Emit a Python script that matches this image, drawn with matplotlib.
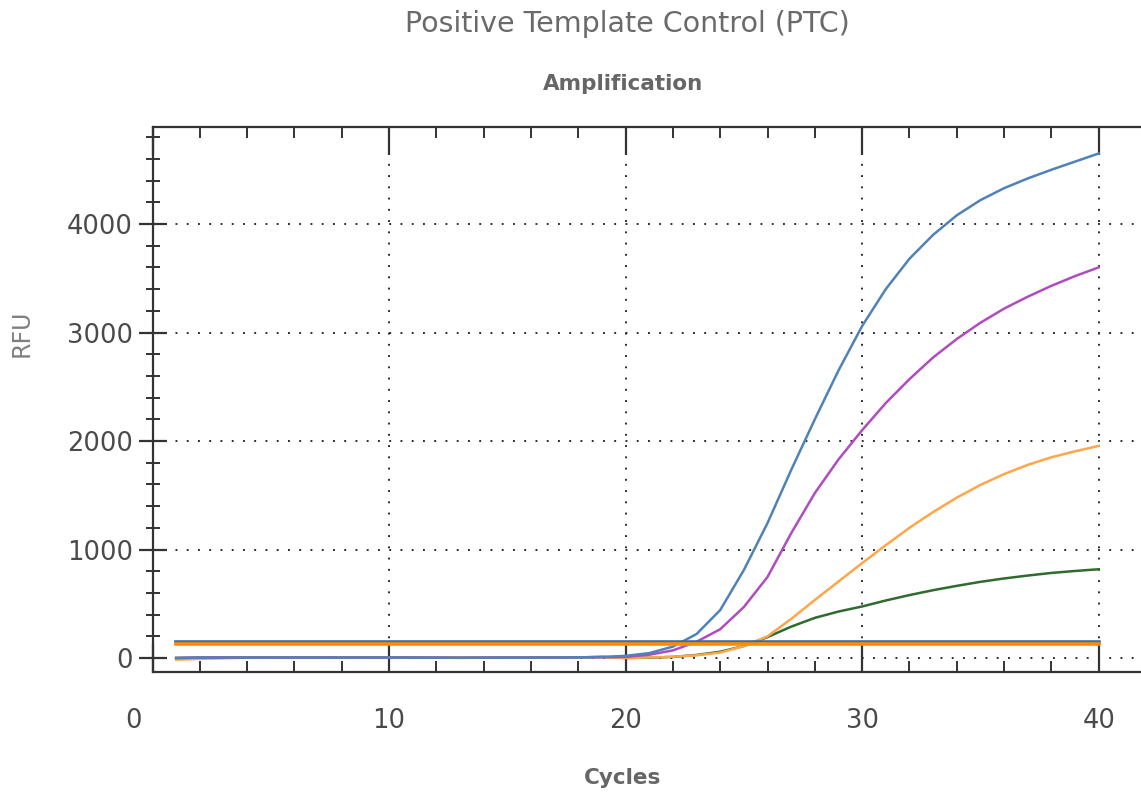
import matplotlib
matplotlib.use("Agg")
import matplotlib.pyplot as plt
from matplotlib.ticker import MultipleLocator, FixedLocator
from matplotlib.transforms import ScaledTranslation

plt.rcParams['font.family'] = ['DejaVu Sans']

cycles = list(range(1, 41))
baseline = [0, 3, 4, 4, 5, 5, 5, 4, 5, 5, 4, 3, 2, 3, 4, 4, 5, 6, 9]
blue_vals = baseline + [20, 45, 105, 221, 442, 811, 1244, 1733, 2200, 2650, 3060,
                        3400, 3680, 3900, 4080, 4220, 4330, 4420, 4500, 4575, 4650]
magenta_vals = baseline + [10, 30, 70, 150, 265, 470, 747, 1150, 1520, 1830, 2100,
                           2350, 2570, 2770, 2940, 3090, 3220, 3330, 3430, 3520, 3600]
orange_vals = [-15, -8, -3] + baseline[3:] + [0, 5, 12, 25, 50, 110, 200, 360, 535, 705, 875,
                                              1040, 1200, 1345, 1478, 1595, 1695, 1780, 1850, 1905, 1955]
green_vals = baseline + [0, 3, 10, 28, 58, 110, 193, 289, 370, 428, 475,
                         530, 580, 625, 665, 702, 733, 760, 784, 802, 818]
threshold_blue = 147
threshold_orange = 127

fig = plt.figure(figsize=(11.41, 7.94), dpi=100)
ax = fig.add_axes([152.5/1141, 122/794, (1146 - 152.5)/1141, (672 - 127)/794])

ax.set_xlim(0, 42)
ax.set_ylim(-129, 4894)

grid_kw = dict(color='#222222', linestyle=(0, (1.0, 5.0)), linewidth=1.35)
for yv in [0, 1000, 2000, 3000, 4000]:
    ax.axhline(yv, zorder=1, **grid_kw)
for xv in [10, 20, 30, 40]:
    ax.axvline(xv, zorder=1, **grid_kw)

ax.plot(cycles, green_vals, color='#2f6b2f', lw=1.8, zorder=3)
ax.plot(cycles, orange_vals, color='#ffa64a', lw=1.8, zorder=3)
ax.plot(cycles, magenta_vals, color='#b04cbf', lw=1.8, zorder=3)
ax.plot(cycles, blue_vals, color='#4f82b8', lw=1.8, zorder=3)

ax.plot([cycles[0], cycles[-1]], [threshold_blue, threshold_blue], color='#3b6ea5', lw=2.6, zorder=4)
ax.plot([cycles[0], cycles[-1]], [threshold_orange, threshold_orange], color='#ff8c00', lw=2.6, zorder=4)

for s in ['left', 'bottom', 'top']:
    ax.spines[s].set_color('#333333')
    ax.spines[s].set_linewidth(1.6)
ax.spines['right'].set_visible(False)

ax.xaxis.set_major_locator(FixedLocator([0, 10, 20, 30, 40]))
ax.xaxis.set_minor_locator(MultipleLocator(2))
ax.yaxis.set_major_locator(FixedLocator([0, 1000, 2000, 3000, 4000]))
ax.yaxis.set_minor_locator(MultipleLocator(200))

ax.tick_params(axis='x', which='major', direction='in', length=20, width=1.6, color='#333333',
               top=True, labelsize=18.5, labelcolor='#4a4a4a', pad=26)
ax.tick_params(axis='x', which='minor', direction='in', length=8, width=1.4, color='#333333', top=True)
ax.tick_params(axis='y', which='major', direction='inout', length=20, width=1.6, color='#333333',
               labelsize=18.5, labelcolor='#4a4a4a', pad=4)
ax.tick_params(axis='y', which='minor', direction='inout', length=10, width=1.4, color='#333333')

ax.set_xticklabels(['0', '10', '20', '30', '40'])
ax.set_yticklabels(['0', '1000', '2000', '3000', '4000'])
lbl0 = ax.get_xticklabels()[0]
lbl0.set_transform(lbl0.get_transform() + ScaledTranslation(-19/100, 0, fig.dpi_scale_trans))

fig.text(627/1141, 1 - 24/794, 'Positive Template Control (PTC)', ha='center', va='center',
         fontsize=20.5, color='#6a6a6a')
fig.text(623/1141, 1 - 84/794, 'Amplification', ha='center', va='center',
         fontsize=15.5, color='#666666', fontweight='bold')
fig.text(623/1141, 1 - 778/794, 'Cycles', ha='center', va='center',
         fontsize=15.5, color='#666666', fontweight='bold')
fig.text(22/1141, 1 - 333/794, 'RFU', ha='center', va='center', rotation=90,
         fontsize=17, color='#808080')

fig.savefig('out.png', dpi=100)
